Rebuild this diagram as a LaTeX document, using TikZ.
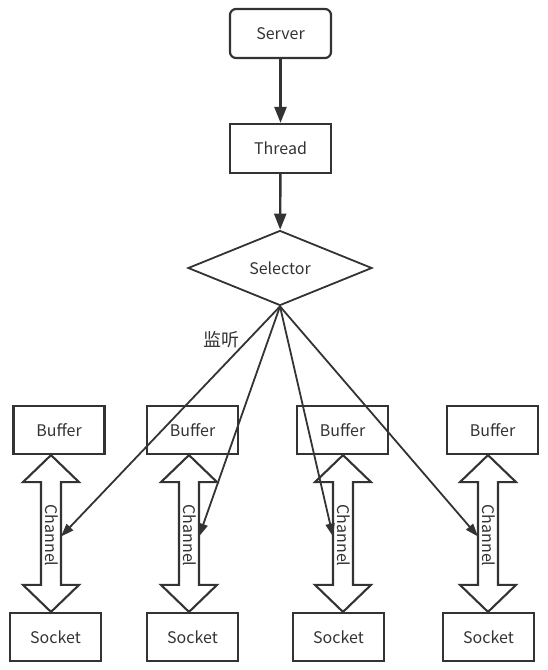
\documentclass[tikz,border=0pt]{standalone}
\usepackage{fontspec}
\setmainfont{Noto Sans CJK SC}
\usetikzlibrary{arrows.meta,positioning,calc,shapes.geometric}
\definecolor{cLine}{HTML}{333333}
\tikzset{
  box/.style   ={draw=cLine, line width=2.2pt, minimum width=91pt, minimum height=48pt,
                 inner sep=0pt, text=cLine, font=\fontsize{16}{18}\selectfont},
  rbox/.style  ={box, rounded corners=6pt, minimum width=101pt, minimum height=49pt},
  selbox/.style={diamond, draw=cLine, line width=1.8pt, minimum width=184pt, minimum height=75pt,
                 inner sep=0pt, text=cLine, font=\fontsize{16}{18}\selectfont},
  flow/.style  ={-{Triangle[length=16pt,width=12pt]}, line width=2.4pt, draw=cLine},
  listen/.style={-{Triangle[length=13pt,width=9pt]}, line width=1.8pt, draw=cLine},
  chan/.style  ={draw=cLine, line width=2.1pt, fill=white, line join=miter},
  chtext/.style={rotate=-90, text=cLine, inner sep=0pt, font=\fontsize{16}{18}\selectfont},
}
\begin{document}
\begin{tikzpicture}[x=1pt,y=-1pt]
  \useasboundingbox (0,0) rectangle (547,670);
  % top of the chain
  \node[rbox] (server) at (280.5,33.5) {Server};
  \node[box, minimum width=101pt, minimum height=49pt] (thread) at (280.5,148.5) {Thread};
  \node[selbox] (selector) at (280,268) {Selector};
  \draw[flow] (server) -- (thread);
  \draw[flow] (thread) -- (selector);
  % buffer / channel / socket columns
  \foreach \i/\bx/\sx/\cx/\dx in {1/59/55.5/51/10, 2/192.5/192.5/189/10,
                                  3/342.5/338.5/343/-10, 4/492.5/488.5/488/-10}{
    \node[box] (buf\i) at (\bx,430) {Buffer};
    \node[box] (sock\i) at (\sx,637) {Socket};
    \coordinate (cx\i) at (\cx,0);
    \coordinate (top\i) at (buf\i.south -| cx\i);
    \coordinate (bot\i) at (sock\i.north -| cx\i);
    \draw[chan] (top\i) -- ++(28,27) -- ++(-18,0) -- ($(bot\i)+(10,-27)$) -- ++(18,0)
      -- (bot\i) -- ++(-28,-27) -- ++(18,0) -- ($(top\i)+(-10,27)$) -- ++(-18,0) -- cycle;
    \node[chtext] (chan\i) at ($(top\i)!0.5!(bot\i)+(1,2)$) {Channel};
    \coordinate (hit\i) at ($(top\i)!0.5!(bot\i)+(\dx,3)$);
  }
  % selector listens on every channel
  \foreach \i in {1,...,4}
    \draw[listen] (selector.south) -- (hit\i);
  \node[text=cLine, font=\fontsize{18}{20}\selectfont] (lbl) at (221,340) {监听};
\end{tikzpicture}
\end{document}
